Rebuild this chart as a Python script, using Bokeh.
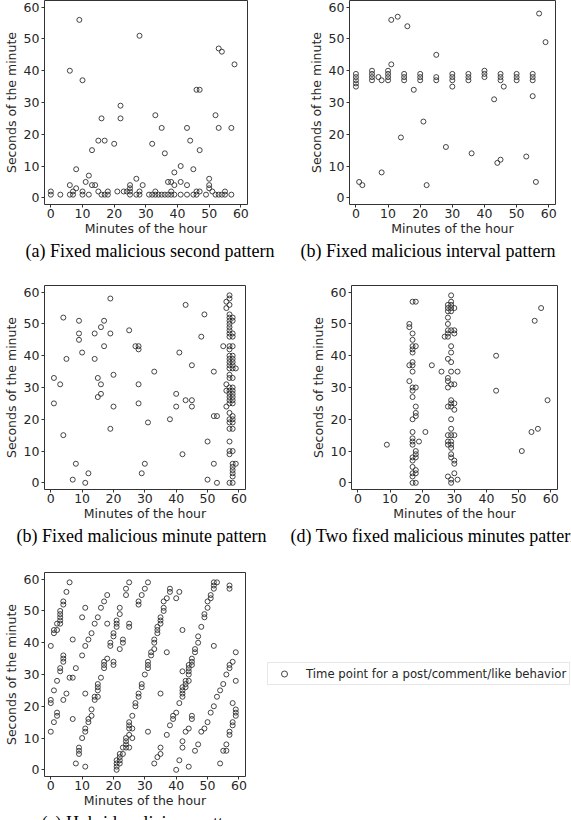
from bokeh.plotting import figure
from bokeh.layouts import column, row
from bokeh.models import FixedTicker, Range1d, Title, Legend, LegendItem
from bokeh.embed import file_html
from bokeh.resources import INLINE

# ---------------- data (minute of hour, second of minute) ----------------
a_minutes = [0, 0, 3, 6, 6, 6, 7, 7, 8, 8, 9, 10, 10, 10, 11, 12, 12, 13, 13, 14,
             15, 15, 16, 16, 17, 17, 18, 18, 20, 21, 22, 22, 23, 24, 25, 25, 25, 25,
             27, 27, 28, 28, 28, 29, 31, 32, 32, 33, 33, 33, 34, 35, 35, 36, 36, 37,
             37, 38, 38, 38, 39, 39, 39, 41, 41, 41, 43, 43, 43, 44, 45, 45, 46, 46,
             46, 47, 47, 47, 49, 50, 50, 50, 51, 52, 52, 53, 54, 53, 54, 53, 55, 55,
             57, 57, 58]
a_seconds = [1, 2, 1, 40, 4, 1, 1, 2, 3, 9, 56, 37, 2, 1, 5, 7, 1, 15, 4, 4,
             18, 2, 25, 1, 1, 18, 2, 1, 17, 2, 29, 25, 2, 2, 4, 3, 2, 1,
             6, 1, 1, 2, 51, 4, 1, 17, 1, 26, 1, 2, 1, 22, 1, 14, 1, 5,
             1, 5, 1, 2, 8, 4, 1, 10, 5, 1, 22, 4, 1, 18, 9, 1, 1, 2,
             34, 34, 15, 2, 1, 6, 4, 3, 2, 26, 1, 1, 1, 47, 46, 22, 2, 1,
             22, 1, 42]

b_minutes = [0, 0, 0, 0, 0, 1, 2, 5, 5, 5, 5, 7, 8, 8, 10, 10, 10, 10, 11, 11,
             13, 14, 15, 15, 15, 16, 18, 20, 20, 20, 21, 22, 25, 25, 25, 28, 30, 30,
             30, 30, 35, 35, 35, 36, 40, 40, 40, 43, 44, 45, 45, 45, 45, 46, 50, 50,
             50, 53, 55, 55, 55, 55, 56, 57, 59]
b_seconds = [35, 36, 37, 38, 39, 5, 4, 37, 38, 39, 40, 38, 37, 8, 37, 38, 39, 40, 42, 56,
             57, 19, 37, 38, 39, 54, 34, 37, 38, 39, 24, 4, 45, 37, 38, 16, 35, 37,
             38, 39, 37, 38, 39, 14, 38, 39, 40, 31, 11, 12, 37, 38, 39, 35, 37, 38,
             39, 13, 37, 38, 39, 32, 5, 58, 49]

c_minutes = [1, 1, 3, 4, 4, 5, 7, 8, 9, 9, 9, 10, 11, 12, 14, 14, 15, 15, 16, 16,
             16, 17, 17, 19, 19, 19, 20, 20, 25, 27, 28, 28, 28, 28, 29, 30, 31, 33,
             38, 40, 40, 41, 42, 43, 43, 45, 45, 45, 48, 49, 50, 50, 52, 52, 53, 52,
             53, 55, 56, 56, 56, 56, 56,
             57, 57, 57, 57, 57, 57, 57, 57, 57, 57, 57, 57, 57, 57, 57, 57, 57, 57,
             57, 57, 57, 57, 57, 57, 57, 57, 57, 57, 57, 57, 57, 57, 57, 57,
             58, 58, 58, 58, 58, 58, 58, 58, 58, 58, 58, 58, 58, 58, 58, 58, 58, 58,
             58, 58, 58, 58, 58, 58, 58, 58, 58, 58,
             59, 59]
c_seconds = [33, 25, 31, 52, 15, 39, 1, 6, 51, 47, 45, 41, 0, 3, 47, 39, 33, 27, 49, 31,
             28, 51, 43, 58, 47, 17, 34, 24, 48, 43, 43, 42, 31, 25, 3, 6, 19, 35,
             20, 28, 24, 41, 9, 56, 26, 37, 26, 24, 46, 53, 13, 1, 35, 21, 21, 6,
             0, 43, 57, 55, 31, 29, 24,
             59, 58, 56, 53, 52, 51, 50, 49, 48, 47, 46, 43, 42, 40, 39, 38, 37, 36,
             34, 33, 30, 29, 28, 27, 26, 25, 22, 20, 19, 17, 13, 10, 9, 0,
             52, 51, 47, 46, 43, 40, 39, 38, 37, 36, 33, 30, 29, 28, 27, 26, 25, 21,
             20, 19, 17, 10, 6, 5, 4, 3, 2, 0,
             36, 6]

d_minutes = [9, 17, 18, 16, 16, 17, 17, 17, 18, 17, 17, 17, 17, 16, 17, 16, 17, 18, 17, 17,
             18, 18, 18, 17, 17, 21, 17, 17, 17, 19, 18, 18, 17, 18, 17, 17, 18, 17,
             18, 17, 17, 18, 23, 26,
             29, 29, 29, 28, 28, 29, 30, 28, 29, 28, 28, 28, 29, 30, 28, 30, 27, 28,
             29, 29, 28, 29, 29, 31, 28, 28, 29, 30, 28, 29, 29, 30, 28, 29, 30, 29,
             29, 28, 29, 30, 28, 29, 28, 29, 29, 29, 29, 30, 30, 28, 30, 29, 31, 29,
             43, 43, 51, 54, 56, 55, 57, 59]
d_seconds = [12, 57, 57, 50, 49, 47, 45, 43, 43, 42, 41, 38, 37, 37, 35, 32, 30, 30, 29, 27,
             24, 22, 21, 20, 16, 16, 14, 13, 12, 13, 10, 9, 8, 8, 7, 5, 4, 3,
             3, 2, 0, 0, 37, 35,
             59, 57, 56, 56, 55, 55, 55, 54, 54, 52, 50, 48, 48, 48, 47, 47, 46, 46,
             43, 41, 39, 38, 35, 35, 33, 32, 31, 31, 30, 26, 25, 25, 24, 24, 23, 20,
             17, 15, 15, 15, 13, 13, 12, 12, 11, 9, 8, 7, 6, 2, 3, 1, 1, 0,
             40, 29, 10, 16, 17, 51, 55, 26]

e_minutes = [0, 0, 0, 0, 1, 1, 2, 1, 1, 2, 2, 2, 2, 3, 3, 3, 3, 3, 3, 3,
             4, 4, 4, 4, 4, 4, 5, 5, 6, 6, 7, 7, 7, 8, 8, 9, 9, 9, 10, 10,
             10, 11, 11, 11, 11, 11, 11, 12, 12, 12, 13, 13, 13, 14, 14, 14, 15, 15, 15, 15,
             15, 16, 16, 17, 17, 17, 17, 18, 18, 18, 19, 19, 20, 20, 20, 20, 21, 21, 21, 21,
             21, 21, 21, 22, 22, 22, 22, 22, 22, 22, 23, 23, 23, 23, 24, 24, 24, 24, 24, 24,
             25, 25, 25, 25, 25, 25, 25, 25, 26, 26, 26, 27, 27, 28, 28, 28, 28, 29, 29, 29,
             30, 30, 31, 31, 31, 31, 31, 32, 32, 33, 33, 33, 33, 34, 34, 34, 34, 35, 35, 35,
             35, 35, 35, 36, 36, 36, 37, 37, 37, 38, 38, 38, 39, 39, 40, 40, 40, 41, 41, 41,
             42, 42, 42, 42, 42, 42, 42, 42, 43, 43, 43, 43, 44, 44, 44, 44, 44, 44, 44, 45,
             45, 45, 45, 45, 46, 46, 46, 47, 47, 47, 48, 48, 49, 49, 49, 50, 50, 50, 51, 51,
             51, 52, 52, 52, 52, 52, 53, 53, 54, 54, 55, 55, 56, 56, 56, 57, 57, 57, 57, 57,
             57, 58, 58, 58, 58, 59, 59, 59, 59, 59]
e_seconds = [39, 22, 21, 12, 44, 43, 44, 25, 15, 46, 28, 18, 17, 50, 49, 48, 47, 46, 32, 31,
             53, 52, 36, 35, 34, 22, 56, 24, 59, 29, 41, 29, 16, 32, 2, 7, 6, 5, 48, 36,
             10, 51, 39, 24, 13, 12, 1, 41, 16, 15, 43, 19, 17, 46, 23, 22, 48, 27, 26, 25,
             23, 51, 29, 53, 34, 33, 32, 55, 46, 35, 40, 39, 43, 42, 34, 33, 47, 46, 45, 3,
             2, 1, 0, 51, 49, 38, 5, 4, 3, 2, 41, 40, 7, 5, 57, 55, 10, 9, 8, 7,
             59, 46, 45, 15, 14, 13, 11, 7, 17, 13, 10, 21, 20, 53, 52, 24, 23, 55, 27, 26,
             57, 30, 59, 34, 33, 32, 12, 37, 36, 41, 40, 38, 2, 45, 44, 43, 4, 48, 47, 46,
             24, 7, 5, 53, 51, 50, 54, 37, 11, 57, 56, 14, 17, 16, 54, 18, 0, 56, 21, 3,
             44, 31, 26, 25, 24, 23, 9, 7, 28, 27, 26, 12, 33, 32, 31, 30, 28, 13, 1, 35,
             34, 33, 17, 16, 38, 37, 6, 42, 40, 8, 45, 12, 49, 48, 13, 53, 51, 15, 55, 54,
             18, 59, 58, 57, 39, 20, 59, 23, 2, 25, 27, 6, 30, 8, 6, 58, 57, 33, 32, 12,
             11, 34, 21, 15, 14, 37, 28, 19, 18, 17]

ticks = [0, 10, 20, 30, 40, 50, 60]
x_label = "Minutes of the hour"
y_label = "Seconds of the minute"
captions = ["(a)  Fixed malicious second pattern",
            "(b) Fixed malicious interval pattern",
            "(b) Fixed malicious minute pattern",
            "(d) Two fixed malicious minutes pattern",
            "(e) Hybrid malicious pattern"]
legend_text = "Time point for a post/comment/like behavior"

AX_FONT = "DejaVu Sans"
INK = "#262626"
MARK = dict(marker="circle", size=5, fill_color=None, line_color="#303030", line_width=0.9)


def panel(mins, secs, w, h, bl, br, bt, bb, caption, cap_dx):
    p = figure(width=w, height=h, output_backend="svg", toolbar_location=None,
               x_range=Range1d(-2.0, 62.1), y_range=Range1d(-2.1, 62.1),
               min_border_left=bl, min_border_right=br,
               min_border_top=bt, min_border_bottom=bb)
    p.grid.visible = False
    p.outline_line_color = "#333333"
    p.outline_line_width = 1
    for ax in (p.xaxis[0], p.yaxis[0]):
        ax.ticker = FixedTicker(ticks=ticks)
        ax.axis_line_color = None
        ax.major_tick_line_color = "#333333"
        ax.major_tick_out = 3
        ax.major_tick_in = 0
        ax.minor_tick_line_color = None
        ax.major_label_text_font = AX_FONT
        ax.major_label_text_font_size = "12.5px"
        ax.major_label_text_color = INK
        ax.major_label_standoff = 2
        ax.axis_label_text_font = AX_FONT
        ax.axis_label_text_font_size = "12.5px"
        ax.axis_label_text_font_style = "normal"
        ax.axis_label_text_color = INK
    p.xaxis.axis_label = x_label
    p.yaxis.axis_label = y_label
    p.xaxis.major_label_standoff = 1
    p.xaxis.axis_label_standoff = 0
    p.yaxis.axis_label_standoff = 2
    p.scatter(mins, secs, **MARK)
    p.add_layout(Title(text=caption, align="left", offset=cap_dx, standoff=4,
                       vertical_align="top", text_font="Liberation Serif",
                       text_font_size="18px", text_font_style="normal",
                       text_color="black"), "below")
    return p


pa = panel(a_minutes, a_seconds, 290, 265, 41, 43, 0, 61, captions[0], -19)
pb = panel(b_minutes, b_seconds, 281, 265, 59, 16, 0, 61, captions[1], -49)
pc = panel(c_minutes, c_seconds, 290, 285, 39, 45, 20, 61, captions[2], -28)
pd = panel(d_minutes, d_seconds, 281, 285, 61, 14, 20, 61, captions[3], -61)
pe = panel(e_minutes, e_seconds, 260, 290, 39, 15, 22, 64, captions[4], -3)

# legend panel: hidden copy of panel (e)'s series, used only for the legend key
pl = figure(width=311, height=290, output_backend="svg", toolbar_location=None,
            x_axis_location=None, y_axis_location=None,
            x_range=Range1d(-2.0, 62.1), y_range=Range1d(-2.1, 62.1),
            min_border_left=0, min_border_right=0, min_border_top=0, min_border_bottom=0)
pl.grid.visible = False
pl.outline_line_color = None
r_leg = pl.scatter(e_minutes, e_seconds, visible=False, **MARK)
lg = Legend(items=[LegendItem(label=legend_text, renderers=[r_leg])],
            location=(7, 91), margin=0, padding=3, spacing=0,
            glyph_width=26, glyph_height=15, label_height=15, label_standoff=9,
            label_text_font=AX_FONT, label_text_font_size="11.7px",
            label_text_color=INK, border_line_color="#d0d0d0",
            border_line_width=1, background_fill_alpha=0.8)
pl.add_layout(lg)

layout = column(row(pa, pb), row(pc, pd), row(pe, pl))
html = file_html(layout, INLINE)
html = html.replace("<head>", "<head><style>html,body{margin:0;overflow:hidden;}</style>", 1)
open("out.html", "w").write(html)
